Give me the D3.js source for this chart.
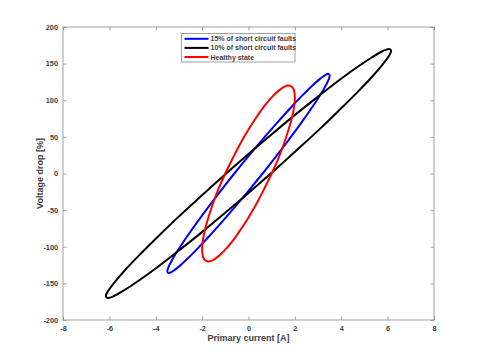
<!DOCTYPE html>
<html>
<head>
<meta charset="utf-8">
<script src="https://cdn.jsdelivr.net/npm/d3@7"></script>
<style>
html,body{margin:0;padding:0;background:#fff;}
svg{display:block;font-family:"Liberation Sans",Arial,sans-serif;}
</style>
</head>
<body>
<svg id="chart" width="480" height="360"></svg>
<script>
// Series names (legend order = plot order)
const seriesNames = ["15% of short circuit faults", "10% of short circuit faults", "Healthy state"];
const seriesColors = ["#0000ff", "#000000", "#ff0000"];

// Tick labels
const xTicks = [-8, -6, -4, -2, 0, 2, 4, 6, 8];
const yTicks = [-200, -150, -100, -50, 0, 50, 100, 150, 200];

// Blue loop (15% faults): primary current [A], voltage drop [%]
const blueI = [0, 0.61, 1.20, 1.75, 2.25, 2.68, 3.03, 3.29, 3.45, 3.5, 3.45, 3.29, 3.03, 2.68, 2.25, 1.75, 1.20, 0.61,
               0, -0.61, -1.20, -1.75, -2.25, -2.68, -3.03, -3.29, -3.45, -3.5, -3.45, -3.29, -3.03, -2.68, -2.25, -1.75, -1.20, -0.61];
const blueV = [23.6, 46.5, 68.0, 87.4, 104.2, 117.8, 127.8, 133.9, 136, 133.9, 127.8, 117.8, 104.2, 87.4, 68.0, 46.5, 23.6, 0,
               -23.6, -46.5, -68.0, -87.4, -104.2, -117.8, -127.8, -133.9, -136, -133.9, -127.8, -117.8, -104.2, -87.4, -68.0, -46.5, -23.6, 0];

// Black loop (10% faults)
const blackI = [0, 1.07, 2.10, 3.08, 3.95, 4.71, 5.33, 5.78, 6.06, 6.15, 6.06, 5.78, 5.33, 4.71, 3.95, 3.08, 2.10, 1.07,
                0, -1.07, -2.10, -3.08, -3.95, -4.71, -5.33, -5.78, -6.06, -6.15, -6.06, -5.78, -5.33, -4.71, -3.95, -3.08, -2.10, -1.07];
const blackV = [26.6, 55.4, 82.4, 107.0, 128.3, 145.7, 158.7, 166.9, 170.0, 167.9, 160.7, 148.7, 132.1, 111.5, 87.6, 60.9, 32.4, 3.0,
                -26.6, -55.4, -82.4, -107.0, -128.3, -145.7, -158.7, -166.9, -170.0, -167.9, -160.7, -148.7, -132.1, -111.5, -87.6, -60.9, -32.4, -3.0];

// Red loop (healthy state)
const redI = [0, 0.35, 0.68, 1.0, 1.29, 1.53, 1.73, 1.88, 1.97, 2.0, 1.97, 1.88, 1.73, 1.53, 1.29, 1.0, 0.68, 0.35,
              0, -0.35, -0.68, -1.0, -1.29, -1.53, -1.73, -1.88, -1.97, -2.0, -1.97, -1.88, -1.73, -1.53, -1.29, -1.0, -0.68, -0.35];
const redV = [60, 77.1, 91.9, 103.9, 112.8, 118.2, 120, 118.2, 112.8, 103.9, 91.9, 77.1, 60, 41.0, 20.8, 0, -20.8, -41.0,
              -60, -77.1, -91.9, -103.9, -112.8, -118.2, -120, -118.2, -112.8, -103.9, -91.9, -77.1, -60, -41.0, -20.8, 0, 20.8, 41.0];

const seriesI = [blueI, blackI, redI];
const seriesV = [blueV, blackV, redV];

const svg = d3.select("#chart");
const L = 63, R = 434, T = 27, B = 320;
const x = d3.scaleLinear().domain([-8, 8]).range([L, R]);
const y = d3.scaleLinear().domain([-200, 200]).range([B, T]);

const axisColor = "#8a8a8a";
const textColor = "#404040";
const tickLen = 3.5;
const plainFmt = d => String(d);

// Box
svg.append("rect").attr("x", L).attr("y", T).attr("width", R - L).attr("height", B - T)
  .attr("fill", "#fff").attr("stroke", axisColor).attr("stroke-width", 0.8);

// Axes with inward ticks
function styleAxis(g) {
  g.select(".domain").remove();
  g.selectAll(".tick line").attr("stroke", axisColor).attr("stroke-width", 0.8);
  g.selectAll(".tick text").attr("fill", textColor).attr("font-size", "7.3px").attr("font-weight", "bold");
}
svg.append("g").attr("transform", `translate(0,${B})`)
  .call(d3.axisBottom(x).tickValues(xTicks).tickFormat(plainFmt).tickSizeInner(-tickLen).tickSizeOuter(0).tickPadding(6))
  .call(styleAxis);
svg.append("g").attr("transform", `translate(0,${T})`)
  .call(d3.axisTop(x).tickValues(xTicks).tickSizeInner(-tickLen).tickSizeOuter(0).tickFormat(""))
  .call(styleAxis);
svg.append("g").attr("transform", `translate(${L},0)`)
  .call(d3.axisLeft(y).tickValues(yTicks).tickFormat(plainFmt).tickSizeInner(-tickLen).tickSizeOuter(0).tickPadding(5))
  .call(styleAxis);
svg.append("g").attr("transform", `translate(${R},0)`)
  .call(d3.axisRight(y).tickValues(yTicks).tickSizeInner(-tickLen).tickSizeOuter(0).tickFormat(""))
  .call(styleAxis);

// Loops
const line = d3.line().x(d => x(d[0])).y(d => y(d[1])).curve(d3.curveCatmullRomClosed);
seriesI.forEach((I, k) => {
  const pts = I.map((v, i) => [v, seriesV[k][i]]);
  svg.append("path").datum(pts).attr("d", line)
    .attr("fill", "none").attr("stroke", seriesColors[k]).attr("stroke-width", 2);
});

// Axis labels
svg.append("text").attr("x", (L + R) / 2).attr("y", 341).attr("text-anchor", "middle")
  .attr("fill", textColor).attr("font-size", "9px").attr("font-weight", "bold").text("Primary current [A]");
svg.append("text").attr("transform", `translate(42.5,${(T + B) / 2}) rotate(-90)`).attr("text-anchor", "middle")
  .attr("fill", textColor).attr("font-size", "9px").attr("font-weight", "bold").text("Voltage drop [%]");

// Legend
const lg = svg.append("g");
lg.append("rect").attr("x", 181.5).attr("y", 33.5).attr("width", 113.5).attr("height", 28.5)
  .attr("fill", "#fff").attr("stroke", axisColor).attr("stroke-width", 0.8);
seriesNames.forEach((name, k) => {
  const yy = 38.8 + k * 9.1;
  lg.append("line").attr("x1", 184.5).attr("x2", 208.5).attr("y1", yy).attr("y2", yy)
    .attr("stroke", seriesColors[k]).attr("stroke-width", 2);
  lg.append("text").attr("x", 210.5).attr("y", yy + 2.5).attr("fill", textColor)
    .attr("font-size", "7px").attr("font-weight", "bold").text(name);
});
</script>
</body>
</html>
